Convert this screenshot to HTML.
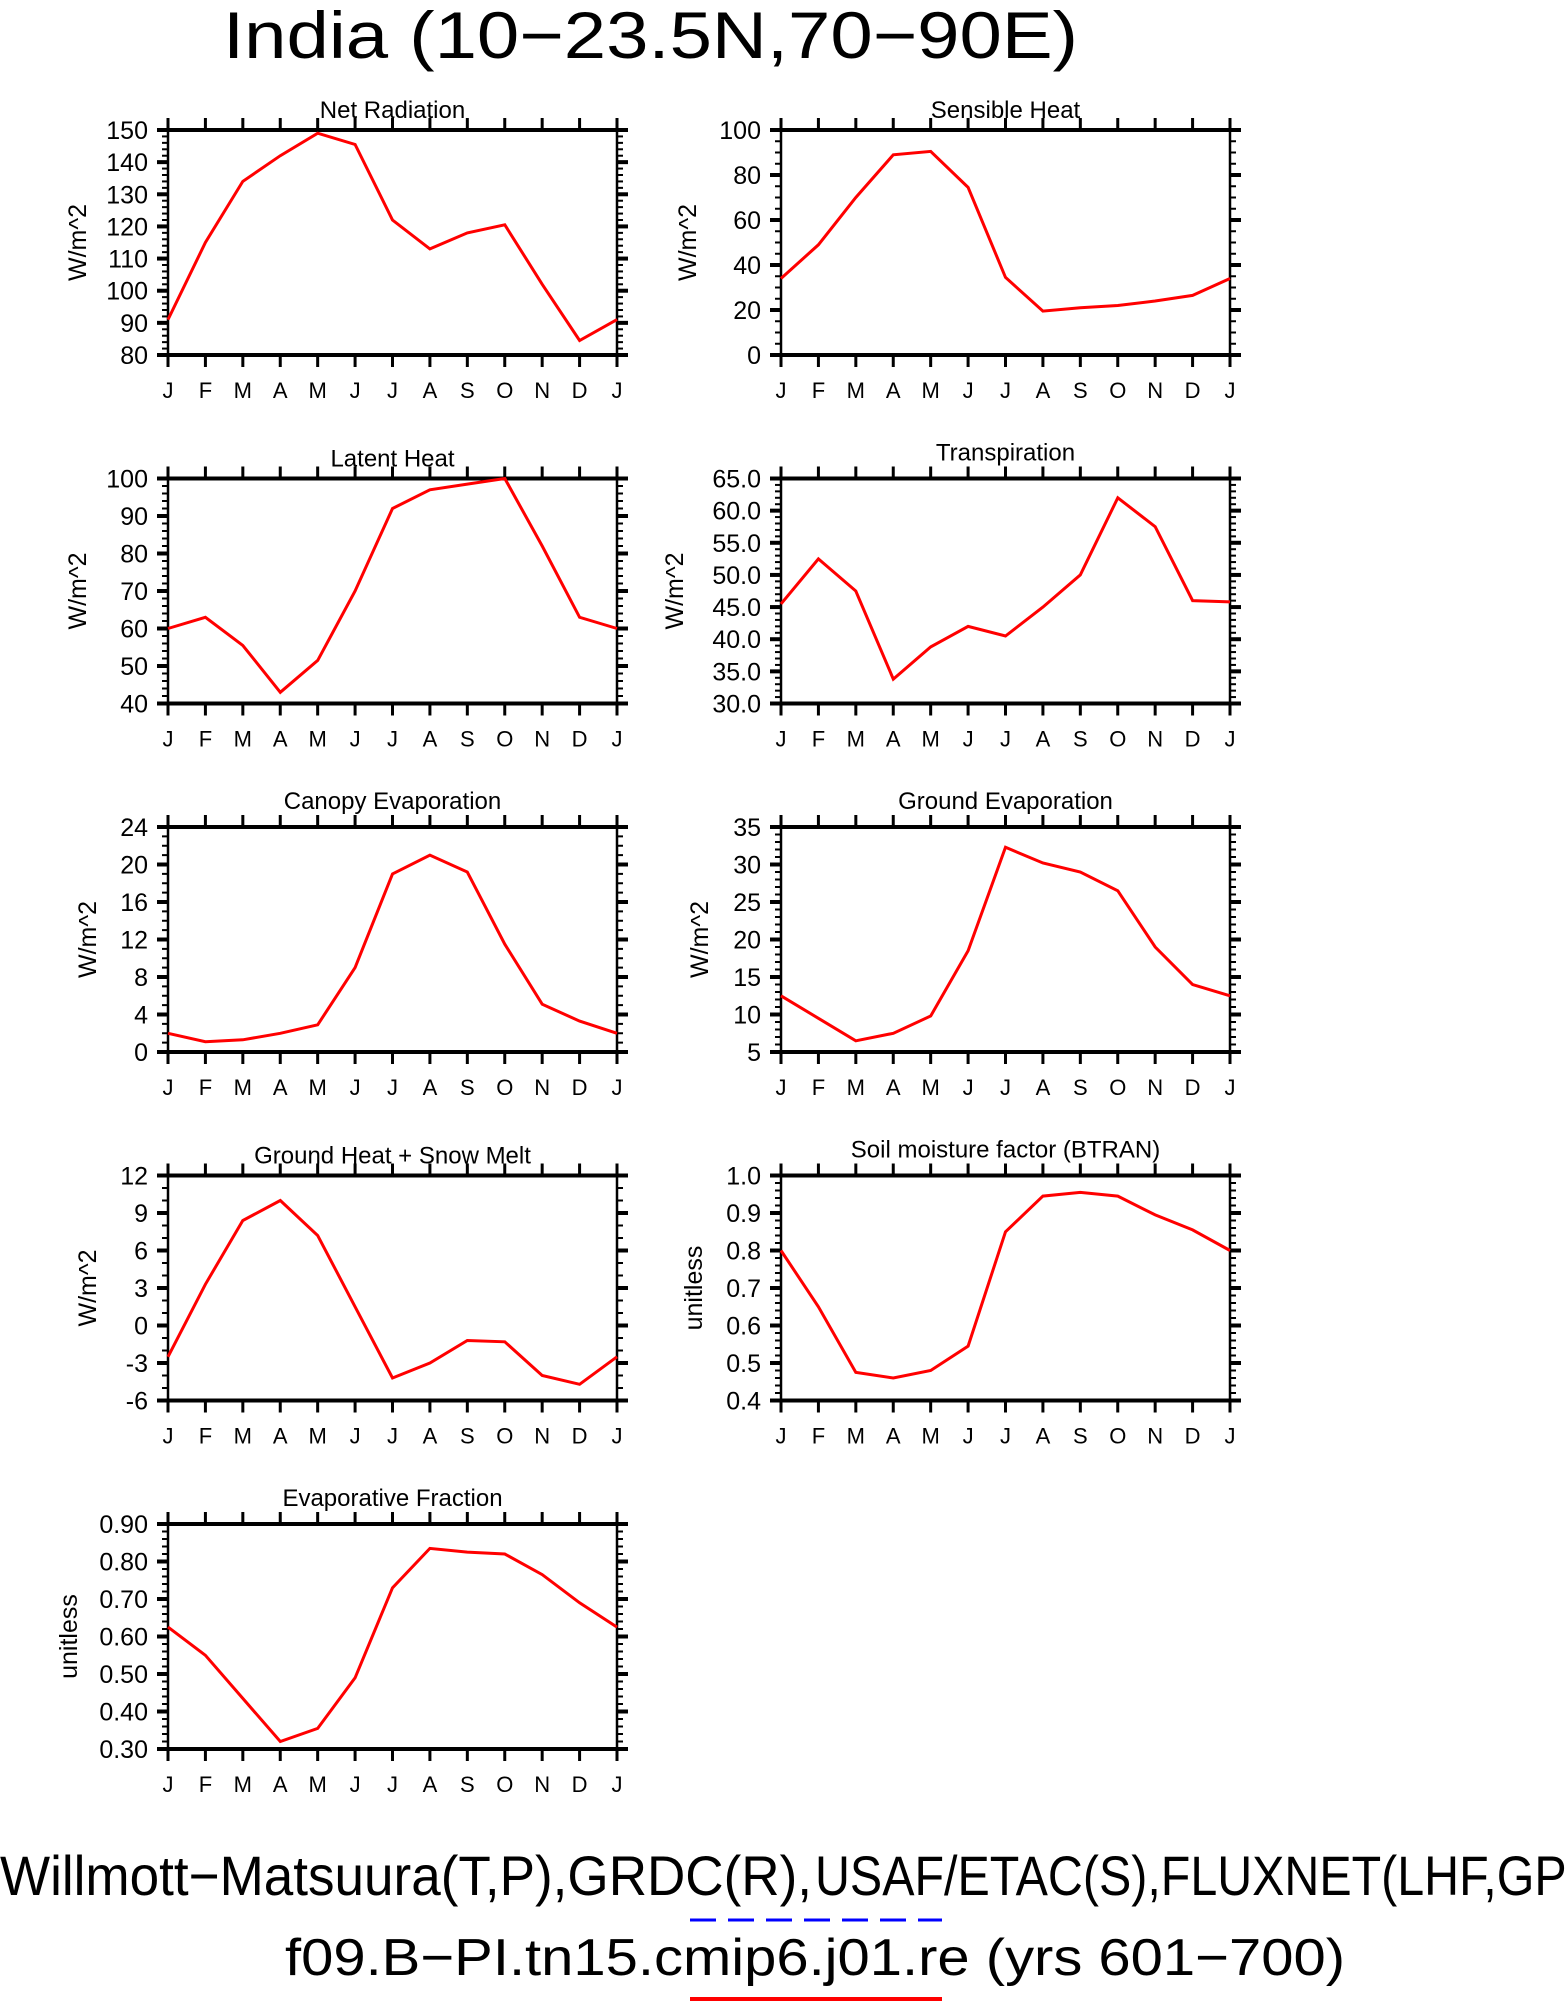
<!DOCTYPE html>
<html><head><meta charset="utf-8"><style>
html,body{margin:0;padding:0;background:#fff;}
svg{display:block;font-family:"Liberation Sans",sans-serif;}
</style></head><body>
<svg id="fig" width="1566" height="2001" viewBox="0 0 1566 2001" xmlns="http://www.w3.org/2000/svg">
<text x="223" y="58" font-size="66" textLength="855" lengthAdjust="spacingAndGlyphs" fill="#000">India (10−23.5N,70−90E)</text>
<text x="0" y="1895" font-size="56" textLength="812" lengthAdjust="spacingAndGlyphs" fill="#000">Willmott−Matsuura(T,P),GRDC(R),</text>
<text x="815" y="1895" font-size="56" textLength="800" lengthAdjust="spacingAndGlyphs" fill="#000">USAF/ETAC(S),FLUXNET(LHF,GPP)</text>
<line x1="690" y1="1920" x2="942" y2="1920" stroke="#0000ff" stroke-width="3" stroke-dasharray="26,12"/>
<text x="285" y="1975" font-size="52" textLength="1060" lengthAdjust="spacingAndGlyphs" fill="#000">f09.B−PI.tn15.cmip6.j01.re (yrs 601−700)</text>
<line x1="690" y1="1999" x2="942" y2="1999" stroke="#ff0000" stroke-width="4"/>
</svg>
<script>
const months = ["J","F","M","A","M","J","J","A","S","O","N","D","J"];
const netRad = [91,115,134,142,149,145.5,122,113,118,120.5,102,84.5,91];
const sensible = [34,49,70,89,90.5,74.5,34.5,19.5,21,22,24,26.5,34];
const latent = [60,63,55.5,43,51.5,70,92,97,98.5,100,82,63,60];
const transp = [45.5,52.5,47.5,33.8,38.8,42,40.5,45,50,62,57.5,46,45.8];
const canopyEvap = [2,1.1,1.3,2,2.9,9,19,21,19.2,11.5,5.1,3.3,2];
const groundEvap = [12.5,9.5,6.5,7.5,9.8,18.5,32.3,30.2,29,26.5,19,14,12.5];
const groundHeat = [-2.5,3.3,8.4,10,7.2,1.5,-4.2,-3,-1.2,-1.3,-4,-4.7,-2.5];
const btran = [0.8,0.65,0.475,0.46,0.48,0.545,0.85,0.945,0.955,0.945,0.895,0.855,0.8];
const evapFrac = [0.625,0.55,0.435,0.32,0.355,0.49,0.73,0.835,0.825,0.82,0.765,0.69,0.625];

const panels = [
 {name:"net-radiation",title:"Net Radiation",data:netRad,min:80,max:150,major:10,minor:2,dec:0,unit:"W/m^2",col:0,row:0,tOff:12,uOff:91},
 {name:"sensible-heat",title:"Sensible Heat",data:sensible,min:0,max:100,major:20,minor:5,dec:0,unit:"W/m^2",col:1,row:0,tOff:12,uOff:94},
 {name:"latent-heat",title:"Latent Heat",data:latent,min:40,max:100,major:10,minor:2,dec:0,unit:"W/m^2",col:0,row:1,tOff:12,uOff:91},
 {name:"transpiration",title:"Transpiration",data:transp,min:30,max:65,major:5,minor:1,dec:1,unit:"W/m^2",col:1,row:1,tOff:18,uOff:107},
 {name:"canopy-evaporation",title:"Canopy Evaporation",data:canopyEvap,min:0,max:24,major:4,minor:1,dec:0,unit:"W/m^2",col:0,row:2,tOff:18,uOff:81},
 {name:"ground-evaporation",title:"Ground Evaporation",data:groundEvap,min:5,max:35,major:5,minor:1,dec:0,unit:"W/m^2",col:1,row:2,tOff:18,uOff:82},
 {name:"ground-heat",title:"Ground Heat + Snow Melt",data:groundHeat,min:-6,max:12,major:3,minor:1,dec:0,unit:"W/m^2",col:0,row:3,tOff:12,uOff:81},
 {name:"btran",title:"Soil moisture factor (BTRAN)",data:btran,min:0.4,max:1.0,major:0.1,minor:0.02,dec:1,unit:"unitless",col:1,row:3,tOff:18,uOff:88},
 {name:"evaporative-fraction",title:"Evaporative Fraction",data:evapFrac,min:0.3,max:0.9,major:0.1,minor:0.02,dec:2,unit:"unitless",col:0,row:4,tOff:18,uOff:100}
];
const NS="http://www.w3.org/2000/svg";
const svg=document.getElementById("fig");
function mk(tag,attrs,parent){const e=document.createElementNS(NS,tag);for(const k in attrs)e.setAttribute(k,attrs[k]);parent.appendChild(e);return e;}
const colX=[168,781], W=449, H=225, rowY=[130,478.5,827,1175.5,1524];
panels.forEach(p=>{
  const L=colX[p.col], T=rowY[p.row], R=L+W, B=T+H;
  const g=mk("g",{},svg);
  
  
  const xS=i=>L+i*W/(months.length-1);
  const yS=v=>B-(v-p.min)/(p.max-p.min)*H;
  const nMin=Math.round((p.max-p.min)/p.minor);
  for(let k=0;k<=nMin;k++){
    const y=yS(p.min+k*p.minor);
    mk("line",{x1:L-6,y1:y,x2:L,y2:y,stroke:"#000","stroke-width":2},g);
    mk("line",{x1:R,y1:y,x2:R+6,y2:y,stroke:"#000","stroke-width":2},g);
  }
  const nMaj=Math.round((p.max-p.min)/p.major);
  for(let k=0;k<=nMaj;k++){
    const v=p.min+k*p.major, y=yS(v);
    mk("line",{x1:L-11,y1:y,x2:L,y2:y,stroke:"#000","stroke-width":4},g);
    mk("line",{x1:R,y1:y,x2:R+11,y2:y,stroke:"#000","stroke-width":4},g);
    const t=mk("text",{x:L-20,y:y+9,"font-size":25,"text-anchor":"end",fill:"#000"},g);
    t.textContent=v.toFixed(p.dec);
    
    
  }
  months.forEach((m,i)=>{
    const x=xS(i);
    mk("line",{x1:x,y1:T-12,x2:x,y2:T,stroke:"#000","stroke-width":3},g);
    mk("line",{x1:x,y1:B,x2:x,y2:B+12,stroke:"#000","stroke-width":3},g);
    const t=mk("text",{x:x,y:B+43,"font-size":22,"text-anchor":"middle",fill:"#000"},g);
    t.textContent=m;
    
    
  });
  mk("line",{x1:L-11,y1:T,x2:R+11,y2:T,stroke:"#000","stroke-width":4},g);
  mk("line",{x1:L-11,y1:B,x2:R+11,y2:B,stroke:"#000","stroke-width":4},g);
  mk("line",{x1:L,y1:T,x2:L,y2:B,stroke:"#000","stroke-width":2.5},g);
  mk("line",{x1:R,y1:T,x2:R,y2:B,stroke:"#000","stroke-width":2.5},g);
  const pts=p.data.map((v,i)=>xS(i).toFixed(1)+","+yS(v).toFixed(1)).join(" ");
  const pl=mk("polyline",{points:pts,fill:"none",stroke:"#ff0000","stroke-width":3,"stroke-linejoin":"miter"},g);
  
  
  const tt=mk("text",{x:L+W/2,y:T-p.tOff,"font-size":24,"text-anchor":"middle",fill:"#000"},g);
  tt.textContent=p.title;
  
  
  const cx=L-p.uOff, cy=T+H/2;
  const ut=mk("text",{x:cx,y:cy,"font-size":25,"text-anchor":"middle",fill:"#000",transform:`rotate(-90 ${cx} ${cy})`,dy:9},g);
  ut.textContent=p.unit;
  
  
});
</script>
</body></html>
